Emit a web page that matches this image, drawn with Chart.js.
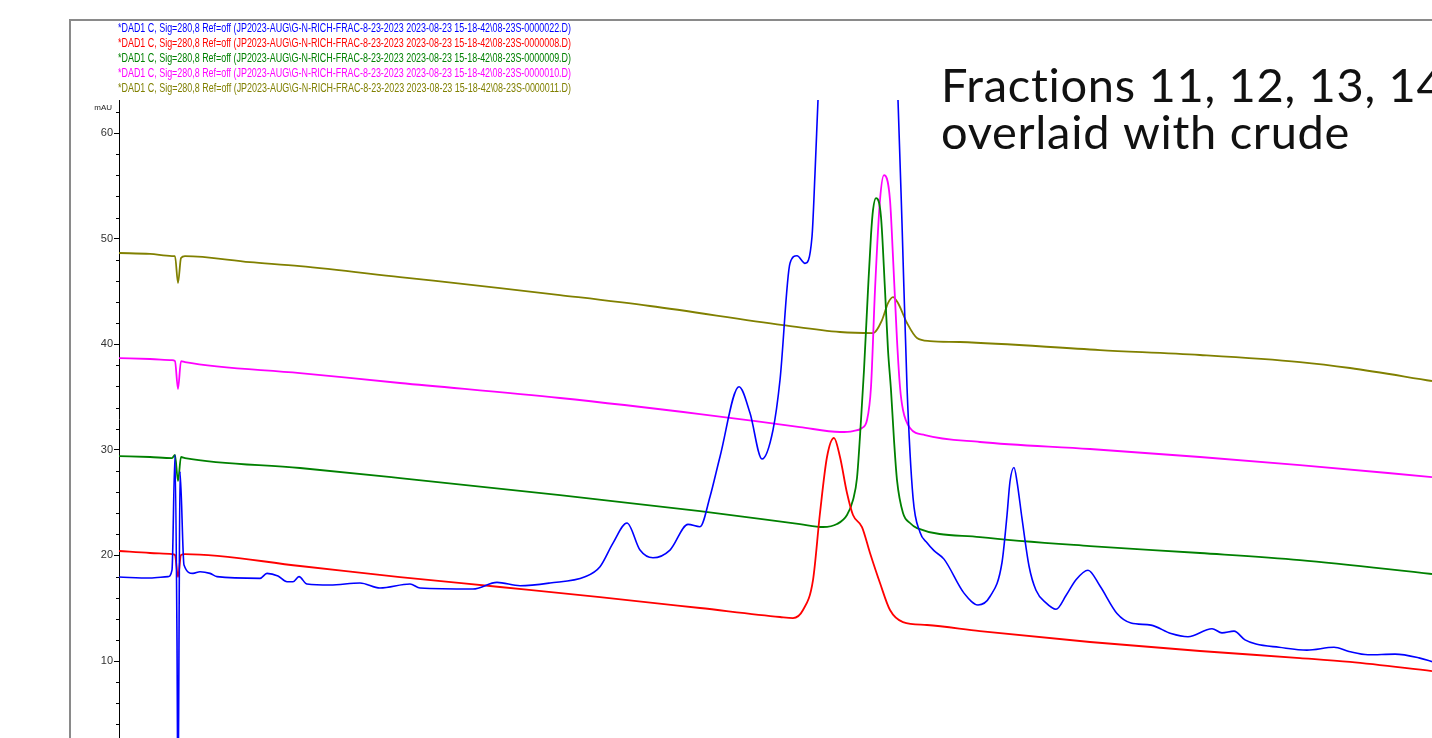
<!DOCTYPE html>
<html>
<head>
<meta charset="utf-8">
<script src="https://cdn.jsdelivr.net/npm/chart.js@4.4.1/dist/chart.umd.min.js"></script>
<style>
  html, body { margin: 0; padding: 0; background: #fff; overflow: hidden; }
  canvas { display: block; }
</style>
</head>
<body>
<canvas id="c" width="1432" height="738"></canvas>
<script>
// ---------------- DATA ----------------
const seriesLabels = [
  "*DAD1 C, Sig=280,8 Ref=off (JP2023-AUG\\G-N-RICH-FRAC-8-23-2023 2023-08-23 15-18-42\\08-23S-0000022.D)",
  "*DAD1 C, Sig=280,8 Ref=off (JP2023-AUG\\G-N-RICH-FRAC-8-23-2023 2023-08-23 15-18-42\\08-23S-0000008.D)",
  "*DAD1 C, Sig=280,8 Ref=off (JP2023-AUG\\G-N-RICH-FRAC-8-23-2023 2023-08-23 15-18-42\\08-23S-0000009.D)",
  "*DAD1 C, Sig=280,8 Ref=off (JP2023-AUG\\G-N-RICH-FRAC-8-23-2023 2023-08-23 15-18-42\\08-23S-0000010.D)",
  "*DAD1 C, Sig=280,8 Ref=off (JP2023-AUG\\G-N-RICH-FRAC-8-23-2023 2023-08-23 15-18-42\\08-23S-0000011.D)"
];
const seriesColors = ["#0000ff", "#ff0000", "#008000", "#ff00ff", "#808000"];
const titleLines = ["Fractions 11, 12, 13, 14", "overlaid with crude"];
const yUnit = "mAU";
const yMajorTicks = [10, 20, 30, 40, 50, 60];

// crude (0000022) - blue
const crudeTime = [0, 0.31, 0.49, 0.53, 0.56, 0.58, 0.59, 0.60, 0.61, 0.65, 0.74, 0.81, 0.91, 0.98,
  1.41, 1.48, 1.59, 1.68, 1.74, 1.80, 1.88, 2.11, 2.41, 2.61, 2.91, 3.01, 3.54, 3.78, 4.01, 4.31,
  4.66, 4.81, 4.94, 5.08, 5.21, 5.34, 5.51, 5.69, 5.81, 5.91, 6.01, 6.20, 6.31, 6.43, 6.54, 6.61,
  6.71, 6.78, 6.86, 6.93, 6.96, 6.99, 7.06, 7.18, 7.39, 7.60, 7.72, 7.79, 7.83, 7.88, 7.94, 8.01,
  8.08, 8.15, 8.25, 8.45, 8.59, 8.71, 8.83, 8.88, 8.91, 8.95, 8.98, 9.03, 9.10, 9.17, 9.27, 9.37,
  9.47, 9.57, 9.69, 9.81, 9.98, 10.12, 10.32, 10.52, 10.69, 10.93, 11.03, 11.15, 11.26, 11.37,
  11.60, 11.88, 12.15, 12.30, 12.49, 12.76, 13.00, 13.13];
const crudeAU = [17.95, 17.86, 17.99, 18.6, 29.51, 12, -5, 12, 27.93, 19.09, 18.30, 18.46, 18.30, 17.99,
  17.83, 18.30, 18.05, 17.51, 17.51, 17.99, 17.29, 17.20, 17.39, 16.91, 17.29, 16.91, 16.82, 17.45, 17.13, 17.39,
  17.98, 18.93, 21.17, 23.07, 20.51, 19.78, 20.51, 22.94, 22.72, 25.56, 29.35, 35.98, 33.48, 29.13, 31.88, 36.61,
  47.66, 48.38, 47.66, 50.18, 56.18, 63.13, 78, 90, 96, 90, 78, 63.13, 51.45, 35.98, 25.5, 22.2,
  21.2, 20.45, 19.65, 16.43, 15.31, 16.11, 19.33, 23.8, 27.0, 28.32, 27.0, 23.5, 19.0, 16.7, 15.5, 14.9,
  16.2, 17.7, 18.6, 17.1, 14.5, 13.6, 13.4, 12.6, 12.3, 13.06, 12.67, 12.83, 12.0, 11.61,
  11.3, 11.03, 11.30, 10.9, 10.59, 10.65, 10.3, 9.94];

// fraction (0000008) - red
const redTime = [0, 0.31, 0.53, 0.56, 0.59, 0.62, 0.66, 1.81, 2.81, 3.81, 4.81, 5.81, 6.61, 6.74,
  6.84, 6.94, 7.01, 7.08, 7.15, 7.21, 7.28, 7.34, 7.43, 7.51, 7.61, 7.71, 7.84, 8.08, 8.61, 9.71,
  10.81, 11.81, 12.31, 13.13];
const redAU = [20.42, 20.23, 20.13, 20.04, 17.95, 20.04, 20.13, 19.00, 17.95, 17.01, 16.06, 15.02, 14.17, 14.07,
  14.83, 17.67, 24.02, 29.32, 31.12, 29.32, 25.91, 23.83, 22.69, 20.23, 17.39, 14.83, 13.69, 13.41, 12.84, 11.80,
  10.95, 10.28, 9.91, 9.05];

// fraction (0000009) - green
const greenTime = [0, 0.31, 0.53, 0.56, 0.59, 0.62, 0.66, 1.81, 2.81, 4.41, 5.81, 6.81, 7.04, 7.18,
  7.28, 7.34, 7.38, 7.42, 7.45, 7.49, 7.52, 7.54, 7.57, 7.62, 7.66, 7.69, 7.72, 7.75, 7.78, 7.84,
  7.91, 7.98, 8.61, 9.71, 10.81, 11.81, 13.13];
const greenAU = [29.41, 29.32, 29.22, 29.51, 27.05, 29.32, 29.22, 28.28, 27.33, 25.72, 24.20, 22.97, 22.69, 22.97,
  23.83, 25.25, 27.33, 32.82, 37.56, 45.13, 50.34, 52.71, 53.84, 52.05, 45.13, 39.45, 35.66, 30.93, 27.14, 24.02,
  23.07, 22.59, 21.74, 20.89, 20.23, 19.56, 18.24];

// fraction (0000010) - magenta
const magentaTime = [0, 0.31, 0.53, 0.56, 0.59, 0.62, 0.66, 1.81, 2.81, 4.41, 5.81, 6.81, 7.21, 7.34,
  7.43, 7.48, 7.52, 7.56, 7.61, 7.65, 7.71, 7.74, 7.78, 7.81, 7.84, 7.91, 8.06, 8.61, 9.71, 10.81,
  11.81, 13.13];
const magentaAU = [38.69, 38.60, 38.50, 38.41, 35.76, 38.41, 38.31, 37.27, 36.33, 34.91, 33.39, 32.16, 31.69, 31.78,
  32.07, 32.82, 35.95, 45.13, 53.66, 56.02, 53.66, 48.26, 40.40, 35.95, 33.77, 32.07, 31.40, 30.74, 30.08, 29.32,
  28.56, 27.42];

// fraction (0000011) - olive
const oliveTime = [0, 0.31, 0.53, 0.56, 0.59, 0.62, 0.66, 1.31, 1.81, 2.81, 3.81, 4.41, 5.31, 6.64,
  7.21, 7.54, 7.63, 7.69, 7.74, 7.79, 7.88, 7.98, 8.11, 8.41, 9.81, 10.81, 11.81, 12.31, 13.13];
const oliveAU = [48.64, 48.55, 48.35, 48.35, 45.80, 48.16, 48.35, 47.78, 47.40, 46.36, 45.32, 44.66, 43.62, 41.82,
  41.16, 41.06, 42.29, 43.90, 44.47, 43.90, 42.01, 40.59, 40.30, 40.21, 39.45, 38.98, 38.31, 37.75, 36.52];

const xMin = 0, xMax = 13.13;
const yMin = 2.71, yMax = 63.13;

// ---------------- CHART ----------------
const pts = (t, v) => t.map((x, i) => ({ x: x, y: v[i] }));
const seriesData = [
  pts(crudeTime, crudeAU),
  pts(redTime, redAU),
  pts(greenTime, greenAU),
  pts(magentaTime, magentaAU),
  pts(oliveTime, oliveAU)
];

const decorPlugin = {
  id: 'decor',
  beforeDraw(chart) {
    const ctx = chart.ctx;
    ctx.save();
    ctx.fillStyle = '#ffffff';
    ctx.fillRect(0, 0, chart.width, chart.height);
    // outer frame of the exported report
    ctx.strokeStyle = '#8a8a8a';
    ctx.lineWidth = 2;
    ctx.beginPath();
    ctx.moveTo(70, chart.height);
    ctx.lineTo(70, 20);
    ctx.lineTo(chart.width, 20);
    ctx.stroke();
    ctx.restore();
  },
  afterDraw(chart) {
    const ctx = chart.ctx;
    const y = chart.scales.y;
    const area = chart.chartArea;
    ctx.save();
    // minor ticks
    ctx.strokeStyle = '#000';
    ctx.lineWidth = 1;
    y.ticks.forEach(t => {
      if (!yMajorTicks.includes(t.value)) {
        const py = Math.round(y.getPixelForValue(t.value)) + 0.5;
        ctx.beginPath();
        ctx.moveTo(area.left - 3, py);
        ctx.lineTo(area.left, py);
        ctx.stroke();
      }
    });
    // unit label
    ctx.fillStyle = '#222';
    ctx.font = '8px "Liberation Sans", Arial, sans-serif';
    ctx.textAlign = 'right';
    ctx.textBaseline = 'middle';
    ctx.fillText(yUnit, 112, 108, 19);
    // legend text lines
    ctx.textAlign = 'left';
    ctx.font = '12px "Liberation Sans", Arial, sans-serif';
    chart.data.datasets.forEach((ds, i) => {
      ctx.fillStyle = ds.borderColor;
      ctx.fillText(ds.label, 118, 28.5 + i * 15, 453);
    });
    // title
    ctx.fillStyle = '#111';
    ctx.font = '47px Lato, "Open Sans", sans-serif';
    ctx.letterSpacing = '0.7px';
    ctx.textBaseline = 'alphabetic';
    titleLines.forEach((line, i) => ctx.fillText(line, 941, 102 + i * 47));
    ctx.restore();
  }
};

new Chart(document.getElementById('c'), {
  type: 'line',
  data: {
    datasets: seriesData.map((d, i) => ({
      label: seriesLabels[i],
      data: d,
      borderColor: seriesColors[i],
      backgroundColor: seriesColors[i],
      borderWidth: i === 0 ? 1.6 : 1.8,
      pointRadius: 0,
      fill: false,
      cubicInterpolationMode: 'monotone'
    }))
  },
  options: {
    responsive: false,
    devicePixelRatio: 1,
    animation: false,
    events: [],
    layout: { padding: { top: 100, left: 0, right: 0, bottom: 0 } },
    plugins: { legend: { display: false }, title: { display: false }, tooltip: { enabled: false } },
    scales: {
      x: { type: 'linear', min: xMin, max: xMax, display: false },
      y: {
        type: 'linear',
        min: yMin,
        max: yMax,
        afterFit(scale) {
          scale.width = 119;
          scale.paddingTop = 0;
          scale.paddingBottom = 0;
        },
        afterBuildTicks(scale) {
          const t = [];
          for (let v = 4; v <= 62; v += 2) t.push({ value: v });
          scale.ticks = t;
        },
        border: { display: true, color: '#000', width: 1 },
        grid: {
          drawOnChartArea: false,
          drawTicks: true,
          tickLength: 5,
          tickColor: c => (c.tick && yMajorTicks.includes(c.tick.value)) ? '#000' : 'rgba(0,0,0,0)'
        },
        ticks: {
          autoSkip: false,
          padding: 1,
          color: '#333',
          font: { family: '"Liberation Sans", Arial, sans-serif', size: 11 },
          callback: v => yMajorTicks.includes(v) ? String(v) : ''
        }
      }
    }
  },
  plugins: [decorPlugin]
});
</script>
</body>
</html>
